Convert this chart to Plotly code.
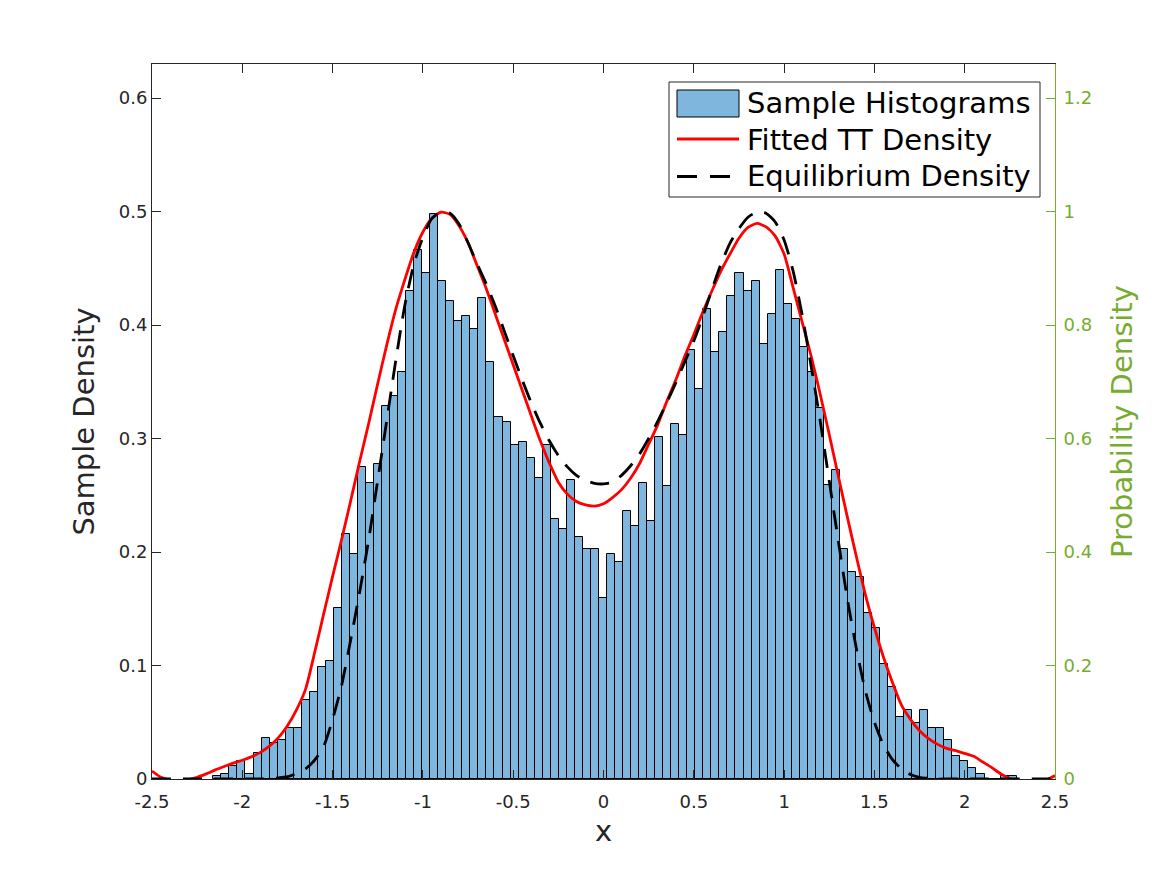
import plotly.graph_objects as go

# ---------------- data ----------------
# histogram (pdf-normalised sample density), bins of equal width
bin_left_edge = -2.1604
bin_width = 0.04448
hist_heights = [
    0.0023, 0.0045, 0.0113, 0.0155, 0.0045, 0.0225, 0.0360, 0.0315, 0.0340, 0.0446,
    0.0446, 0.0700, 0.0764, 0.0990, 0.1040, 0.1506, 0.2160, 0.1984, 0.2745, 0.2610,
    0.2772, 0.3283, 0.3377, 0.3584, 0.4300, 0.4665, 0.4456, 0.4980, 0.4388, 0.4209,
    0.4033, 0.4077, 0.3962, 0.4236, 0.3671, 0.3190, 0.3150, 0.2945, 0.2970, 0.2830,
    0.2653, 0.2945, 0.2291, 0.2203, 0.2634, 0.2132, 0.2026, 0.2026, 0.1595, 0.1982,
    0.1912, 0.2361, 0.2229, 0.2608, 0.2273, 0.3015, 0.2584, 0.3130, 0.3033, 0.3783,
    0.3440, 0.4141, 0.3759, 0.3938, 0.4256, 0.4459, 0.4304, 0.4391, 0.3830, 0.4097,
    0.4486, 0.4185, 0.4053, 0.3807, 0.3584, 0.3269, 0.2590, 0.2724, 0.2029, 0.1825,
    0.1781, 0.1463, 0.1327, 0.1013, 0.0810, 0.0546, 0.0605, 0.0493, 0.0605, 0.0446,
    0.0446, 0.0341, 0.0200, 0.0156, 0.0100, 0.0044, 0.0000, 0.0000, 0.0023, 0.0023,
]
bin_centers = [bin_left_edge + bin_width * (k + 0.5) for k in range(len(hist_heights))]

curve_x = [
    -2.50, -2.45, -2.40, -2.35, -2.30, -2.25, -2.20, -2.15, -2.10, -2.05,
    -2.00, -1.95, -1.90, -1.85, -1.80, -1.75, -1.70, -1.65, -1.60, -1.55,
    -1.50, -1.45, -1.40, -1.35, -1.30, -1.25, -1.20, -1.15, -1.10, -1.05,
    -1.00, -0.95, -0.90, -0.85, -0.80, -0.75, -0.70, -0.65, -0.60, -0.55,
    -0.50, -0.45, -0.40, -0.35, -0.30, -0.25, -0.20, -0.15, -0.10, -0.05,
    0.00, 0.05, 0.10, 0.15, 0.20, 0.25, 0.30, 0.35, 0.40, 0.45,
    0.50, 0.55, 0.60, 0.65, 0.70, 0.75, 0.80, 0.85, 0.90, 0.95,
    1.00, 1.05, 1.10, 1.15, 1.20, 1.25, 1.30, 1.35, 1.40, 1.45,
    1.50, 1.55, 1.60, 1.65, 1.70, 1.75, 1.80, 1.85, 1.90, 1.95,
    2.00, 2.05, 2.10, 2.15, 2.20, 2.25, 2.30, 2.35, 2.40, 2.45, 2.50,
]
fitted_tt = [
    0.014, 0.003, -0.002, -0.003, -0.001, 0.003, 0.009, 0.016, 0.022, 0.028,
    0.033, 0.039, 0.047, 0.058, 0.073, 0.094, 0.122, 0.158, 0.222, 0.290,
    0.357, 0.422, 0.490, 0.560, 0.627, 0.697, 0.765, 0.828, 0.880, 0.928,
    0.964, 0.988, 0.999, 0.995, 0.975, 0.945, 0.905, 0.865, 0.820, 0.775,
    0.730, 0.685, 0.640, 0.596, 0.557, 0.523, 0.502, 0.489, 0.483, 0.481,
    0.485, 0.496, 0.510, 0.530, 0.556, 0.590, 0.624, 0.665, 0.703, 0.745,
    0.783, 0.823, 0.860, 0.895, 0.925, 0.953, 0.972, 0.979, 0.973, 0.957,
    0.925, 0.866, 0.805, 0.745, 0.678, 0.607, 0.534, 0.462, 0.392, 0.325,
    0.267, 0.215, 0.170, 0.130, 0.105, 0.085, 0.071, 0.061, 0.054, 0.050,
    0.045, 0.040, 0.030, 0.020, 0.009, 0.001, -0.004, -0.006, -0.005, -0.002, 0.006,
]
equilibrium = [
    0.000, 0.000, 0.000, 0.000, 0.000, 0.000, 0.000, 0.000, 0.000, 0.000,
    0.000, 0.000, 0.000, 0.001, 0.002, 0.004, 0.010, 0.018, 0.033, 0.057,
    0.105, 0.165, 0.245, 0.330, 0.422, 0.527, 0.632, 0.738, 0.835, 0.907,
    0.955, 0.988, 0.999, 0.997, 0.978, 0.945, 0.908, 0.873, 0.834, 0.790,
    0.746, 0.703, 0.663, 0.627, 0.596, 0.570, 0.550, 0.535, 0.526, 0.521,
    0.520, 0.523, 0.535, 0.552, 0.573, 0.600, 0.630, 0.663, 0.698, 0.735,
    0.772, 0.815, 0.862, 0.907, 0.944, 0.970, 0.990, 0.999, 0.997, 0.982,
    0.950, 0.895, 0.818, 0.727, 0.631, 0.525, 0.420, 0.318, 0.230, 0.155,
    0.100, 0.060, 0.034, 0.018, 0.008, 0.003, 0.001, 0.000, 0.000, 0.000,
    0.000, 0.000, 0.000, 0.000, 0.000, 0.000, 0.000, 0.000, 0.000, 0.000, 0.000,
]

series_names = ["Sample Histograms", "Fitted TT Density", "Equilibrium Density"]

x_ticks = [-2.5, -2, -1.5, -1, -0.5, 0, 0.5, 1, 1.5, 2, 2.5]
x_tick_text = ["-2.5", "-2", "-1.5", "-1", "-0.5", "0", "0.5", "1", "1.5", "2", "2.5"]
left_ticks = [0, 0.1, 0.2, 0.3, 0.4, 0.5, 0.6]
left_tick_text = ["0", "0.1", "0.2", "0.3", "0.4", "0.5", "0.6"]
right_ticks = [0, 0.2, 0.4, 0.6, 0.8, 1.0, 1.2]
right_tick_text = ["0", "0.2", "0.4", "0.6", "0.8", "1", "1.2"]

# ---------------- style ----------------
FONT = "DejaVu Sans"
DARK = "#262626"
GREEN = "#77AC30"
BAR_COLOR = "#7EB6DE"
RED = "#FF0000"
W, H = 1167, 875
PAGE_OFFSET = 8                      # html body margin
PLOT_L, PLOT_R, PLOT_T, PLOT_B = 152, 1055, 64, 779   # plot area in page pixels

fig = go.Figure()
fig.add_trace(go.Bar(
    x=bin_centers, y=hist_heights, width=bin_width,
    name=series_names[0],
    marker=dict(color=BAR_COLOR, line=dict(color="black", width=1)),
    yaxis="y",
))
fig.add_trace(go.Scatter(
    x=curve_x, y=fitted_tt, mode="lines", name=series_names[1],
    line=dict(color=RED, width=2.8, shape="spline", smoothing=0.6),
    yaxis="y2",
))
fig.add_trace(go.Scatter(
    x=curve_x, y=equilibrium, mode="lines", name=series_names[2],
    line=dict(color="black", width=2.8, dash="19px,12px", shape="spline", smoothing=0.6),
    yaxis="y2",
))


# ---------------- hand-drawn legend (MATLAB style) ----------------
def px(x):
    return (x - PLOT_L) / (PLOT_R - PLOT_L)


def py(y):
    return (PLOT_B - y) / (PLOT_B - PLOT_T)


shapes = [
    dict(type="rect", xref="paper", yref="paper", x0=px(669), x1=px(1040), y0=py(197), y1=py(82),
         line=dict(color=DARK, width=1), fillcolor="white", layer="above"),
    dict(type="rect", xref="paper", yref="paper", x0=px(677), x1=px(739), y0=py(117), y1=py(90),
         line=dict(color="black", width=1), fillcolor=BAR_COLOR, layer="above"),
    dict(type="line", xref="paper", yref="paper", x0=px(677), x1=px(739), y0=py(139), y1=py(139),
         line=dict(color=RED, width=2.8), layer="above"),
    dict(type="line", xref="paper", yref="paper", x0=px(677), x1=px(732), y0=py(176.5), y1=py(176.5),
         line=dict(color="black", width=2.8, dash="20px,13px"), layer="above"),
]
annotations = []
for name, yc in zip(series_names, [103, 139.5, 176]):
    annotations.append(dict(
        xref="paper", yref="paper", x=px(745), y=py(yc), xanchor="left", yanchor="middle",
        text=name, showarrow=False, font=dict(family=FONT, size=29, color="black"),
    ))

fig.update_layout(
    width=W, height=H,
    margin=dict(l=PLOT_L - PAGE_OFFSET, r=W - PLOT_R + PAGE_OFFSET,
                t=PLOT_T - PAGE_OFFSET, b=H - PLOT_B + PAGE_OFFSET),
    paper_bgcolor="white", plot_bgcolor="white",
    bargap=0,
    font=dict(family=FONT, color=DARK, size=18),
    showlegend=False,
    shapes=shapes,
    annotations=annotations,
    xaxis=dict(
        range=[-2.5, 2.5], tickvals=x_ticks, ticktext=x_tick_text,
        ticks="inside", ticklen=9, tickwidth=1, tickcolor=DARK,
        showline=True, linecolor=DARK, linewidth=1, mirror="ticks",
        showgrid=False, zeroline=False, ticklabelstandoff=6,
        tickfont=dict(family=FONT, size=18, color=DARK),
        title=dict(text="x", font=dict(family=FONT, size=29, color=DARK), standoff=10),
    ),
    yaxis=dict(
        range=[0, 0.63], tickvals=left_ticks, ticktext=left_tick_text,
        ticks="inside", ticklen=9, tickwidth=1, tickcolor=DARK,
        showline=True, linecolor=DARK, linewidth=1, mirror=False,
        showgrid=False, zeroline=False,
        tickfont=dict(family=FONT, size=18, color=DARK),
        title=dict(text="Sample Density", font=dict(family=FONT, size=29, color=DARK), standoff=15),
    ),
    yaxis2=dict(
        range=[0, 1.26], tickvals=right_ticks, ticktext=right_tick_text,
        overlaying="y", side="right",
        ticks="inside", ticklen=9, tickwidth=1, tickcolor=GREEN,
        showline=True, linecolor=GREEN, linewidth=1,
        showgrid=False, zeroline=False, ticklabelstandoff=4,
        tickfont=dict(family=FONT, size=18, color=GREEN),
        title=dict(text="Probability Density", font=dict(family=FONT, size=29, color=GREEN), standoff=20),
    ),
)

fig.write_html("out.html")
